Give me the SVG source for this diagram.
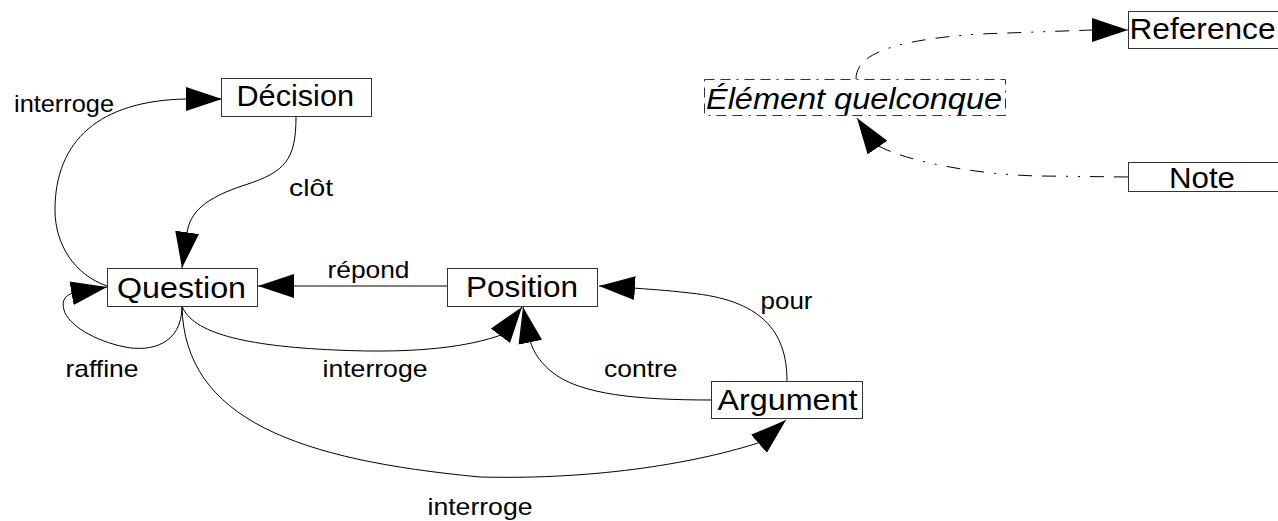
<svg xmlns="http://www.w3.org/2000/svg" width="1278" height="521" viewBox="0 0 1278 521">
<style>
.box{fill:#fff;stroke:#333;stroke-width:1}
.dbox{fill:none;stroke:#333;stroke-width:1;stroke-dasharray:10,6,10,6,2,6}
.nt{font-family:"Liberation Sans",Arial,sans-serif;font-size:30px;fill:#000}
.lb{font-family:"Liberation Sans",Arial,sans-serif;font-size:24px;fill:#000}
.c{fill:none;stroke:#000;stroke-width:1;marker-end:url(#ah)}
.cd{fill:none;stroke:#000;stroke-width:1;stroke-dasharray:14,10,14,10,2,10,2,10;marker-end:url(#ah)}
</style>
<defs>
<marker id="ah" markerUnits="userSpaceOnUse" markerWidth="36" markerHeight="24" refX="36" refY="12" orient="auto" viewBox="0 0 36 24">
<path d="M0,0 L36,12 L0,24 z" fill="#000"/>
</marker>
</defs>
<g id="connectors">
<path class="c" d="M107,286 C75,275 55,245 55,210 C55,140 100,101 185,99 L222,99"/>
<path class="c" d="M296,117 C296,160 285,172 245,185 C205,198 190,212 187,233 L182,268"/>
<path class="c" d="M447,286 L294,286 L258,286"/>
<path class="c" d="M182,306 C182,345 150,352 125,347 C95,341 68,325 64,310 C61,300 66,295 73,293 L107,287"/>
<path class="c" d="M182,306 C192,333 245,346 335,350 C420,354 470,346 501,335 L522,307"/>
<path class="c" d="M182,306 C184,420 300,460 480,477 C600,480 700,462 761,442 L786,420"/>
<path class="c" d="M712,400 C640,400 580,395 552,372 C537,360 531,347 529,336 L523,307"/>
<path class="c" d="M787,381 C787,330 760,300 690,293 C665,290 645,289 633,288 L599,286"/>
<path class="cd" d="M856,79 C856,55 890,40 980,34 L1092,30 L1128,30"/>
<path class="cd" d="M1128,177 L1040,176 C980,175 905,162 875,144 L857,118"/>
</g>
<g id="labels">
<text class="lb" x="14" y="111.7" textLength="100" lengthAdjust="spacingAndGlyphs">interroge</text>
<text class="lb" x="289" y="195.7" textLength="44" lengthAdjust="spacingAndGlyphs">clôt</text>
<text class="lb" x="327.5" y="277.7" textLength="82" lengthAdjust="spacingAndGlyphs">répond</text>
<text class="lb" x="65.5" y="376.7" textLength="73" lengthAdjust="spacingAndGlyphs">raffine</text>
<text class="lb" x="322.5" y="376.7" textLength="105" lengthAdjust="spacingAndGlyphs">interroge</text>
<text class="lb" x="604" y="376.7" textLength="73.5" lengthAdjust="spacingAndGlyphs">contre</text>
<text class="lb" x="760.5" y="309" textLength="52" lengthAdjust="spacingAndGlyphs">pour</text>
<text class="lb" x="427.5" y="515" textLength="105" lengthAdjust="spacingAndGlyphs">interroge</text>
</g>
<g id="node-decision">
<rect class="box" x="221.5" y="78.5" width="150" height="38"/>
<text class="nt" x="236.5" y="106.3" textLength="117.5" lengthAdjust="spacingAndGlyphs">Décision</text>
</g>
<g id="node-question">
<rect class="box" x="107.5" y="268.5" width="150" height="38"/>
<text class="nt" x="117" y="298.3" textLength="129" lengthAdjust="spacingAndGlyphs">Question</text>
</g>
<g id="node-position">
<rect class="box" x="447.5" y="268.5" width="150" height="38"/>
<text class="nt" x="466" y="296.7" textLength="112" lengthAdjust="spacingAndGlyphs">Position</text>
</g>
<g id="node-argument">
<rect class="box" x="711.5" y="381.5" width="151" height="37"/>
<text class="nt" x="717.5" y="410" textLength="140" lengthAdjust="spacingAndGlyphs">Argument</text>
</g>
<g id="node-element">
<rect class="dbox" x="704.5" y="79.5" width="301" height="36"/>
<text class="nt" x="706" y="109" font-style="italic" textLength="296" lengthAdjust="spacingAndGlyphs">Élément quelconque</text>
</g>
<g id="node-reference">
<rect class="box" x="1128.5" y="11.5" width="150" height="37"/>
<text class="nt" x="1129.5" y="39.3" textLength="146" lengthAdjust="spacingAndGlyphs">Reference</text>
</g>
<g id="node-note">
<rect class="box" x="1128.5" y="162.5" width="150" height="29"/>
<text class="nt" x="1169" y="187.7" textLength="66" lengthAdjust="spacingAndGlyphs">Note</text>
</g>
</svg>
